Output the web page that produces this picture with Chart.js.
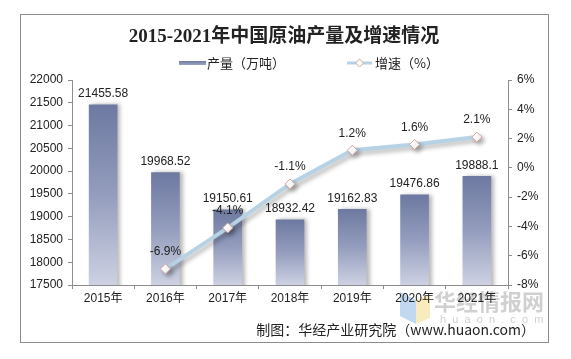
<!DOCTYPE html>
<html>
<head>
<meta charset="utf-8">
<script src="https://cdn.jsdelivr.net/npm/chart.js@4.4.1/dist/chart.umd.min.js"></script>
<style>
html,body{margin:0;padding:0;background:#fff;}
#wrap{width:571px;height:359px;position:relative;}
</style>
</head>
<body>
<div id="wrap"><canvas id="c" width="571" height="359"></canvas></div>
<script>
const categories = ['2015年','2016年','2017年','2018年','2019年','2020年','2021年'];
const production = [21455.58, 19968.52, 19150.61, 18932.42, 19162.83, 19476.86, 19888.1];
const productionLabels = ['21455.58','19968.52','19150.61','18932.42','19162.83','19476.86','19888.1'];
const growth = [null, -6.9, -4.1, -1.1, 1.2, 1.6, 2.1];
const titleText = '2015-2021年中国原油产量及增速情况';
const seriesNames = ['产量（万吨）', '增速（%）'];
const sourceText = '制图：华经产业研究院（www.huaon.com）';

const SANS = '"Liberation Sans", "Noto Sans CJK SC", sans-serif';
const CJK = '"Noto Sans CJK SC", "Liberation Sans", sans-serif';

function barGradient(c) {
  const chart = c.chart;
  const {ctx, chartArea, scales} = chart;
  if (!chartArea) return '#8a93b5';
  const v = c.raw;
  const top = scales.y.getPixelForValue(v);
  const g = ctx.createLinearGradient(0, top, 0, chartArea.bottom);
  g.addColorStop(0, '#6d79a1');
  g.addColorStop(0.5, '#949dbd');
  g.addColorStop(1, '#cdd1e2');
  return g;
}

const decor = {
  id: 'decor',
  beforeDraw(chart) {
    const ctx = chart.ctx;
    ctx.save();
    ctx.fillStyle = '#fff';
    ctx.fillRect(0, 0, chart.width, chart.height);
    ctx.strokeStyle = '#8c8c8c';
    ctx.lineWidth = 1;
    ctx.strokeRect(20.5, 14.5, 528, 328);
    ctx.fillStyle = '#222';
    ctx.font = 'bold 19px "Liberation Serif", "Noto Sans CJK SC", serif';
    ctx.textAlign = 'center';
    ctx.textBaseline = 'middle';
    ctx.fillText(titleText, 284, 37);
    const lg = ctx.createLinearGradient(0, 61, 0, 66);
    lg.addColorStop(0, '#6d79a1');
    lg.addColorStop(1, '#a9b0cb');
    ctx.fillStyle = lg;
    ctx.fillRect(179, 61, 27, 4);
    ctx.fillStyle = '#222';
    ctx.font = '13px ' + CJK;
    ctx.textAlign = 'left';
    ctx.fillText(seriesNames[0], 207, 63);
    ctx.strokeStyle = '#b7d2e4';
    ctx.lineWidth = 3;
    ctx.beginPath();
    ctx.moveTo(347, 63);
    ctx.lineTo(372, 63);
    ctx.stroke();
    ctx.beginPath();
    ctx.moveTo(359.5, 59);
    ctx.lineTo(363.5, 63);
    ctx.lineTo(359.5, 67);
    ctx.lineTo(355.5, 63);
    ctx.closePath();
    ctx.fillStyle = '#fff';
    ctx.fill();
    ctx.strokeStyle = '#d5a59a';
    ctx.lineWidth = 1;
    ctx.stroke();
    ctx.fillStyle = '#222';
    ctx.fillText(seriesNames[1], 375, 63);
    ctx.globalAlpha = 0.55;
    ctx.fillStyle = '#8fb8e6';
    ctx.beginPath();
    ctx.moveTo(400, 292); ctx.lineTo(416, 300); ctx.lineTo(416, 324); ctx.lineTo(400, 316); ctx.closePath();
    ctx.fill();
    ctx.fillStyle = '#f2dc8a';
    ctx.beginPath();
    ctx.moveTo(416, 300); ctx.lineTo(430, 294); ctx.lineTo(430, 318); ctx.lineTo(416, 324); ctx.closePath();
    ctx.fill();
    ctx.globalAlpha = 1;
    ctx.fillStyle = 'rgba(170,170,170,0.55)';
    ctx.font = 'bold 22px ' + CJK;
    ctx.textAlign = 'left';
    ctx.fillText('华经情报网', 434, 302);
    ctx.font = '11px ' + SANS;
    ctx.fillText('h  u  a  o  n  .  c  o  m', 440, 320);
    ctx.restore();
  },
  beforeDatasetDraw(chart, args) {
    const ctx = chart.ctx;
    ctx.save();
    ctx.shadowColor = 'rgba(0,0,0,0.28)';
    ctx.shadowBlur = 4;
    ctx.shadowOffsetX = 3;
    ctx.shadowOffsetY = args.index === 1 ? 3 : 0;
  },
  afterDatasetDraw(chart) {
    chart.ctx.restore();
  },
  afterDraw(chart) {
    const ctx = chart.ctx;
    ctx.save();
    ctx.fillStyle = '#222';
    ctx.font = '12px ' + SANS;
    ctx.textAlign = 'center';
    ctx.textBaseline = 'bottom';
    chart.getDatasetMeta(0).data.forEach((el, i) => {
      ctx.fillText(productionLabels[i], el.x, el.y - 5);
    });
    chart.getDatasetMeta(1).data.forEach((el, i) => {
      if (growth[i] === null) return;
      ctx.fillText(growth[i].toFixed(1) + '%', el.x, el.y - 11);
    });
    ctx.font = '14px ' + CJK;
    ctx.textAlign = 'right';
    ctx.textBaseline = 'middle';
    ctx.fillText(sourceText, 535, 330);
    ctx.restore();
  }
};

new Chart(document.getElementById('c'), {
  data: {
    labels: categories,
    datasets: [
      {
        type: 'bar',
        label: seriesNames[0],
        data: production,
        yAxisID: 'y',
        backgroundColor: barGradient,
        barThickness: 28,
        order: 1
      },
      {
        type: 'line',
        label: seriesNames[1],
        data: growth,
        yAxisID: 'y1',
        borderColor: '#b7d2e4',
        borderWidth: 4,
        tension: 0,
        pointStyle: 'rectRot',
        pointRadius: 5,
        pointBackgroundColor: '#ffffff',
        pointBorderColor: '#d5a59a',
        pointBorderWidth: 1,
        order: 0
      }
    ]
  },
  options: {
    responsive: false,
    animation: false,
    layout: { padding: { top: 80, left: 20, right: 25, bottom: 52 } },
    plugins: {
      legend: { display: false },
      title: { display: false },
      tooltip: { enabled: false }
    },
    scales: {
      x: {
        offset: true,
        grid: { display: true, drawOnChartArea: false, drawTicks: true, tickLength: 4, color: '#8c8c8c', offset: true },
        border: { display: true, color: '#8c8c8c' },
        ticks: { color: '#222', font: { size: 12, family: SANS }, padding: 2, maxRotation: 0 },
        afterFit(s) { s.height = 22; }
      },
      y: {
        position: 'left',
        min: 17500, max: 22000,
        grid: { display: true, drawOnChartArea: false, drawTicks: true, tickLength: 4, color: '#8c8c8c' },
        border: { display: true, color: '#8c8c8c' },
        ticks: { stepSize: 500, color: '#222', font: { size: 12, family: SANS }, padding: 5, callback: v => String(v) },
        afterFit(s) { s.width = 52; }
      },
      y1: {
        position: 'right',
        min: -8, max: 6,
        grid: { display: true, drawOnChartArea: false, drawTicks: true, tickLength: 4, color: '#8c8c8c' },
        border: { display: true, color: '#8c8c8c' },
        ticks: { stepSize: 2, color: '#222', font: { size: 12, family: SANS }, padding: 5, callback: v => v + '%' },
        afterFit(s) { s.width = 38; }
      }
    }
  },
  plugins: [decor]
});
</script>
</body>
</html>
